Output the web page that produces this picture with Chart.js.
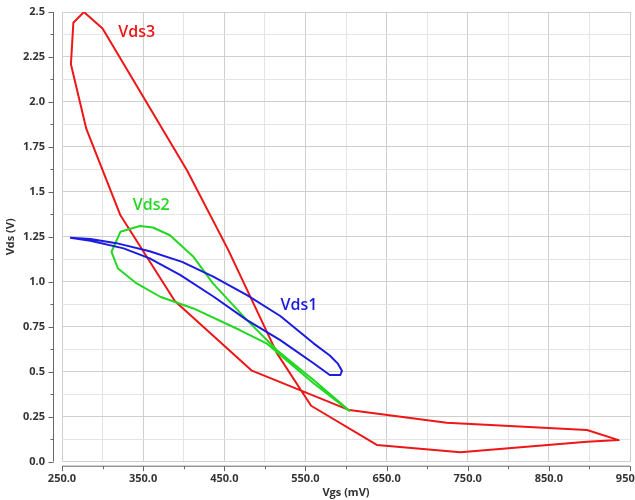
<!DOCTYPE html>
<html>
<head>
<meta charset="utf-8">
<script src="https://cdn.jsdelivr.net/npm/chart.js@4"></script>
<style>
  body { margin: 0; background: #fff; }
  canvas { display: block; }
</style>
</head>
<body>
<canvas id="chart" width="635" height="500"></canvas>
<script>
// Vds1 loop (blue)
const vds1Vgs = [260, 285, 317, 358, 398, 437, 478, 519, 560, 580, 590, 595, 593, 580, 560, 519, 478, 437, 396, 358, 326, 285, 260];
const vds1Vds = [1.245, 1.238, 1.215, 1.17, 1.111, 1.028, 0.926, 0.81, 0.658, 0.59, 0.545, 0.505, 0.482, 0.482, 0.547, 0.676, 0.787, 0.917, 1.037, 1.13, 1.186, 1.228, 1.245];

// Vds2 loop (green)
const vds2Vgs = [605, 560, 515, 478, 436, 412, 383, 362, 346, 322, 311, 319, 342, 371, 412, 469, 502, 560, 605];
const vds2Vds = [0.28, 0.454, 0.62, 0.787, 0.991, 1.139, 1.259, 1.302, 1.31, 1.278, 1.167, 1.074, 0.991, 0.917, 0.852, 0.732, 0.658, 0.436, 0.28];

// Vds3 loop (red)
const vds3Vgs = [277, 300, 404, 455, 515, 557, 638, 741, 897, 936, 897, 724, 604, 484, 389, 322, 280, 261, 264, 277];
const vds3Vds = [2.5, 2.408, 1.62, 1.176, 0.602, 0.311, 0.093, 0.052, 0.111, 0.12, 0.176, 0.217, 0.287, 0.506, 0.893, 1.37, 1.85, 2.21, 2.44, 2.5];

const seriesNames = ['Vds1', 'Vds2', 'Vds3'];
const seriesColors = ['#1c1ce0', '#22d822', '#ee1616'];
const labelVgs = [542, 360, 342];
const labelVds = [0.87, 1.426, 2.389];

function pts(xs, ys) {
    return xs.map((x, i) => ({ x: x, y: ys[i] }));
}

const isMajorY = v => Math.abs(v * 4 - Math.round(v * 4)) < 1e-6;
const isMajorX = v => Math.abs((v - 250) / 100 - Math.round((v - 250) / 100)) < 1e-6;

const tickFont = { family: 'Open Sans', size: 11, weight: 'bold' };

// draws the offset axis lines + tick marks, and the curve labels
const extras = {
    id: 'extras',
    afterDraw(chart) {
        const c = chart.ctx;
        const a = chart.chartArea;
        const xs = chart.scales.x;
        const ys = chart.scales.y;
        c.save();
        c.strokeStyle = '#666';
        c.lineWidth = 1;
        const ax = a.left - 8.5;
        c.beginPath();
        c.moveTo(ax, a.top);
        c.lineTo(ax, a.bottom);
        ys.ticks.forEach(t => {
            const py = Math.round(ys.getPixelForValue(t.value)) + 0.5;
            const len = isMajorY(t.value) ? 5 : 3;
            c.moveTo(ax - len, py);
            c.lineTo(ax, py);
        });
        const ay = a.bottom + 4.5;
        c.moveTo(a.left, ay);
        c.lineTo(a.right, ay);
        xs.ticks.forEach(t => {
            const px = Math.round(xs.getPixelForValue(t.value)) + 0.5;
            const len = isMajorX(t.value) ? 5 : 3;
            c.moveTo(px, ay);
            c.lineTo(px, ay + len);
        });
        c.stroke();

        c.font = '600 16px "Open Sans"';
        c.textAlign = 'center';
        c.textBaseline = 'middle';
        seriesNames.forEach((n, i) => {
            c.fillStyle = seriesColors[i];
            c.fillText(n, xs.getPixelForValue(labelVgs[i]), ys.getPixelForValue(labelVds[i]));
        });
        c.restore();
    }
};

new Chart(document.getElementById('chart'), {
    type: 'scatter',
    data: {
        datasets: [
            { label: seriesNames[0], data: pts(vds1Vgs, vds1Vds), borderColor: seriesColors[0] },
            { label: seriesNames[1], data: pts(vds2Vgs, vds2Vds), borderColor: seriesColors[1] },
            { label: seriesNames[2], data: pts(vds3Vgs, vds3Vds), borderColor: seriesColors[2] }
        ].map(d => Object.assign(d, { showLine: true, pointRadius: 0, borderWidth: 2, tension: 0, fill: false, borderJoinStyle: 'round' }))
    },
    options: {
        responsive: false,
        animation: false,
        layout: { padding: { top: 12, right: 5, left: 0, bottom: 0 } },
        plugins: { legend: { display: false }, tooltip: { enabled: false } },
        scales: {
            x: {
                type: 'linear',
                min: 250,
                max: 950,
                afterFit: s => { s.height = 38.3; s.paddingLeft = 0; s.paddingRight = 0; },
                border: { display: false },
                grid: {
                    drawTicks: false,
                    color: ctx => isMajorX(ctx.tick.value) ? '#cfcfcf' : '#e4e4e4'
                },
                ticks: {
                    stepSize: 50,
                    autoSkip: false,
                    maxRotation: 0,
                    padding: 11,
                    color: '#333',
                    font: tickFont,
                    callback: v => isMajorX(v) ? v.toFixed(1) : ''
                },
                title: {
                    display: true,
                    text: 'Vgs (mV)',
                    color: '#333',
                    font: tickFont,
                    padding: { top: 0, bottom: 1 }
                }
            },
            y: {
                type: 'linear',
                min: 0,
                max: 2.5,
                afterFit: s => { s.width = 62; s.paddingTop = 0; s.paddingBottom = 0; },
                border: { display: false },
                grid: {
                    drawTicks: false,
                    color: ctx => isMajorY(ctx.tick.value) ? '#cfcfcf' : '#e4e4e4'
                },
                ticks: {
                    stepSize: 0.125,
                    autoSkip: false,
                    padding: 17,
                    color: '#333',
                    font: tickFont,
                    callback: v => isMajorY(v) ? (Number.isInteger(v) ? v.toFixed(1) : String(v)) : ''
                },
                title: {
                    display: true,
                    text: 'Vds (V)',
                    color: '#333',
                    font: tickFont,
                    padding: { top: 4, bottom: 0 }
                }
            }
        }
    },
    plugins: [extras]
});
</script>
</body>
</html>
